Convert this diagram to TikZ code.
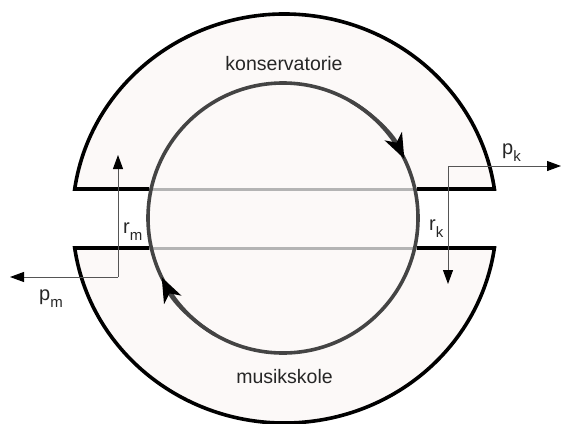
\documentclass[tikz,border=0pt]{standalone}
\usepackage{fontspec}
\setmainfont{Liberation Sans}
\usetikzlibrary{arrows.meta}
\definecolor{ringfill}{HTML}{FCF9F8}
\definecolor{loopgray}{HTML}{444444}
\definecolor{chordgray}{HTML}{B4B4B4}
\definecolor{flowgray}{HTML}{555555}
\newcommand\symlbl[2]{#1\raisebox{-7.5pt}{\fontsize{15}{15}\selectfont #2}}
\tikzset{
  outline/.style={line width=3.6pt, black, line join=miter},
  loop/.style={line width=3.6pt, loopgray},
  chord/.style={line width=3pt, chordgray},
  flow/.style={line width=1pt, flowgray, -{Triangle[length=14pt,width=10pt,color=black]}},
  looptip/.style={loop, -{Stealth[length=25pt,width=19pt,inset=7pt,color=black]}},
  word/.style={font=\fontsize{19.5}{20}\selectfont, text=black!85, inner sep=0pt, anchor=base},
  sym/.style={font=\fontsize{20}{20}\selectfont, text=black!85, inner sep=0pt, anchor=base west}
}
\begin{document}
\begin{tikzpicture}[x=1pt,y=-1pt]
  \useasboundingbox (0,0) rectangle (561,423);
  % centres of the outer ring and of the inner loop
  \coordinate (oc) at (284.5,218);
  \coordinate (ic) at (283,218);
  % ends of the two ring pieces and where the cuts meet the loop
  \coordinate (ul) at (74.7,189);
  \coordinate (ur) at (494.3,189);
  \coordinate (ll) at (74.7,248);
  \coordinate (lr) at (494.3,248);
  \coordinate (uil) at (149,189);
  \coordinate (uir) at (417,189);
  \coordinate (lil) at (149,248);
  \coordinate (lir) at (417,248);

  % pale fill of the two ring pieces and of the loop
  \begin{scope}
    \clip (0,0) rectangle (561,189);
    \fill[ringfill] (oc) ellipse [x radius=212, y radius=204];
  \end{scope}
  \begin{scope}
    \clip (0,248) rectangle (561,423);
    \fill[ringfill] (oc) ellipse [x radius=212, y radius=204];
  \end{scope}
  \fill[ringfill] (ic) circle [radius=135];

  % cuts across the loop
  \draw[chord] (uil) -- (uir);
  \draw[chord] (lil) -- (lir);

  % outlines of the ring pieces
  \draw[outline] (uil) -- (ul)
    arc[start angle=-171.83, end angle=-8.17, x radius=212, y radius=204]
    -- (uir);
  \draw[outline] (lil) -- (ll)
    arc[start angle=171.83, end angle=8.17, x radius=212, y radius=204]
    -- (lir);

  % inner loop with its direction marks
  \draw[loop] (ic) circle [radius=135];
  \draw[looptip] ([shift={(-60:135)}]ic) arc[start angle=-60, end angle=-26, radius=135];
  \draw[looptip] ([shift={(120:135)}]ic) arc[start angle=120, end angle=154, radius=135];

  % flows on the left (musikskole side)
  \coordinate (mc) at (118,277);
  \coordinate (mtop) at (118,155);
  \coordinate (mleft) at (10,277);
  \draw[flow] (mc) -- (mtop);
  \draw[flow] (mc) -- (mleft);

  % flows on the right (konservatorie side)
  \coordinate (kc) at (448,166);
  \coordinate (kright) at (561,166);
  \coordinate (kbot) at (448,284);
  \draw[flow] (kc) -- (kright);
  \draw[flow] (kc) -- (kbot);

  % labels
  \node[word] (kons) at (284,70) {konservatorie};
  \node[word] (musk) at (284.5,383) {musikskole};
  \node[sym] (rm) at (123,233) {\symlbl{r}{m}};
  \node[sym] (rk) at (429,230) {\symlbl{r}{k}};
  \node[sym] (pm) at (39,300) {\symlbl{p}{m}};
  \node[sym] (pk) at (502,154) {\symlbl{p}{k}};
\end{tikzpicture}
\end{document}
